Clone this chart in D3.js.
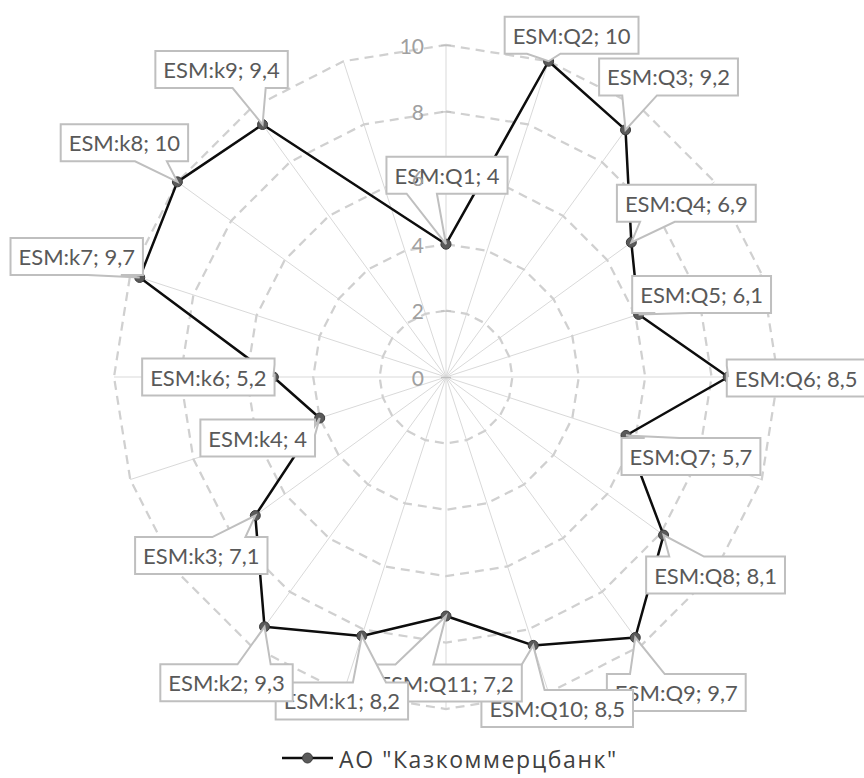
<!DOCTYPE html>
<html>
<head>
<meta charset="utf-8">
<script src="https://cdn.jsdelivr.net/npm/d3@7"></script>
<style>
  html, body { margin: 0; padding: 0; background: #fff; }
  svg { display: block; }
</style>
</head>
<body>
<svg id="chart" width="864" height="778"></svg>
<script>
// ---- data ----
const categories = [
  "ESM:Q1", "ESM:Q2", "ESM:Q3", "ESM:Q4", "ESM:Q5", "ESM:Q6", "ESM:Q7",
  "ESM:Q8", "ESM:Q9", "ESM:Q10", "ESM:Q11",
  "ESM:k1", "ESM:k2", "ESM:k3", "ESM:k4", "ESM:k6", "ESM:k7", "ESM:k8", "ESM:k9",
  ""
];
const values = [4, 10, 9.2, 6.9, 6.1, 8.5, 5.7, 8.1, 9.7, 8.5, 7.2,
                8.2, 9.3, 7.1, 4, 5.2, 9.7, 10, 9.4, null];
const tickValues = [0, 2, 4, 6, 8, 10];
const seriesName = "АО \"Казкоммерцбанк\"";

// callout box centre, relative to the point it describes
const labelOffsets = [
  [1, -69], [23, -26], [43, -53], [55, -39], [63, -20], [68, 1], [65, 21],
  [52, 40], [41, 55], [24, 63], [0, 67],
  [-20, 65], [-38, 56], [-54, 40], [-62, 20], [-65, 0], [-63, -21], [-53, -39], [-41, -55],
  [0, 0]
];

// ---- layout ----
const svg = d3.select("#chart");
const cx = 446, cy = 377, radius = 332;
const FONT = "Lato, 'Open Sans', 'DejaVu Sans', sans-serif";
const LEGEND_FONT = "'Open Sans', Lato, 'DejaVu Sans', sans-serif";

const r = d3.scaleLinear().domain([0, 10]).range([0, radius]);
const angle = d3.scaleLinear().domain([0, categories.length]).range([0, 2 * Math.PI]);
const px = (i, v) => cx + r(v) * Math.sin(angle(i));
const py = (i, v) => cy - r(v) * Math.cos(angle(i));

const locale = d3.formatLocale({ decimal: ",", thousands: " ", grouping: [3], currency: ["", ""] });
const fmt = locale.format("~g");

// ---- grid: spokes ----
const grid = svg.append("g");
grid.selectAll("line.spoke")
  .data(categories)
  .join("line")
  .attr("class", "spoke")
  .attr("x1", cx).attr("y1", cy)
  .attr("x2", (d, i) => px(i, 10))
  .attr("y2", (d, i) => py(i, 10))
  .attr("stroke", "#d9d9d9")
  .attr("stroke-width", 1);

// ---- grid: dashed rings ----
const ring = d3.lineRadial()
  .angle((d, i) => angle(i))
  .radius(d => r(d))
  .curve(d3.curveLinearClosed);
grid.selectAll("path.ring")
  .data(tickValues.filter(t => t > 0))
  .join("path")
  .attr("class", "ring")
  .attr("transform", `translate(${cx},${cy})`)
  .attr("d", t => ring(categories.map(() => t)))
  .attr("fill", "none")
  .attr("stroke", "#d0d0d0")
  .attr("stroke-width", 2.25)
  .attr("stroke-dasharray", "9,6");

// ---- value axis on the first spoke ----
const yAxisScale = d3.scaleLinear().domain([0, 10]).range([cy, cy - radius]);
const axisG = svg.append("g")
  .attr("transform", `translate(${cx},0)`)
  .call(d3.axisLeft(yAxisScale).tickValues(tickValues).tickSize(5).tickPadding(17).tickFormat(fmt));
axisG.select(".domain").remove();
axisG.selectAll(".tick line").attr("x1", -5).attr("x2", 5).attr("stroke", "#bfbfbf").attr("stroke-width", 1.25);
axisG.selectAll(".tick text").remove();

// ---- series ----
const pts = values
  .map((v, i) => ({ v, i, c: categories[i] }))
  .filter(d => d.v != null);

const seriesLine = d3.line()
  .x(d => px(d.i, d.v))
  .y(d => py(d.i, d.v))
  .curve(d3.curveLinearClosed);

svg.append("path")
  .datum(pts)
  .attr("d", seriesLine)
  .attr("fill", "none")
  .attr("stroke", "#0d0d0d")
  .attr("stroke-width", 2.5)
  .attr("stroke-linejoin", "round");

svg.append("g").selectAll("circle")
  .data(pts)
  .join("circle")
  .attr("cx", d => px(d.i, d.v))
  .attr("cy", d => py(d.i, d.v))
  .attr("r", 5)
  .attr("fill", "#5a5a5a")
  .attr("stroke", "#3a3a3a")
  .attr("stroke-width", 1);

// ---- data callouts ----
function calloutPath(l, t, w, h, tx, ty) {
  const rr = l + w, b = t + h, hc = l + w / 2, vc = t + h / 2;
  const dxp = (tx - hc) / w, dyp = (ty - vc) / h;
  const horiz = Math.abs(dxp) > Math.abs(dyp);
  const fx1 = l + w * (dxp > 0 ? 7 : 2) / 12, fx2 = l + w * (dxp > 0 ? 10 : 5) / 12;
  const fy1 = t + h * (dyp > 0 ? 7 : 2) / 12, fy2 = t + h * (dyp > 0 ? 10 : 5) / 12;
  const p = d3.path();
  p.moveTo(l, t);
  if (!horiz && dyp < 0) { p.lineTo(fx1, t); p.lineTo(tx, ty); p.lineTo(fx2, t); }
  p.lineTo(rr, t);
  if (horiz && dxp > 0) { p.lineTo(rr, fy1); p.lineTo(tx, ty); p.lineTo(rr, fy2); }
  p.lineTo(rr, b);
  if (!horiz && dyp > 0) { p.lineTo(fx2, b); p.lineTo(tx, ty); p.lineTo(fx1, b); }
  p.lineTo(l, b);
  if (horiz && dxp < 0) { p.lineTo(l, fy2); p.lineTo(tx, ty); p.lineTo(l, fy1); }
  p.closePath();
  return p.toString();
}

const boxH = 37, padX = 8;
const labels = svg.append("g");
pts.forEach(d => {
  const g = labels.append("g");
  const tx = px(d.i, d.v), ty = py(d.i, d.v);
  const [ox, oy] = labelOffsets[d.i];
  const ccx = tx + ox, ccy = ty + oy;
  const path = g.append("path");
  const text = g.append("text")
    .attr("x", ccx).attr("y", ccy)
    .attr("text-anchor", "middle")
    .attr("dominant-baseline", "central")
    .attr("font-family", FONT)
    .attr("font-size", 22)
    .attr("fill", "#595959")
    .text(`${d.c}; ${fmt(d.v)}`);
  const w = text.node().getComputedTextLength() + 2 * padX;
  path.attr("d", calloutPath(ccx - w / 2, ccy - boxH / 2, w, boxH, tx, ty))
    .attr("fill", "#fff")
    .attr("stroke", "#bfbfbf")
    .attr("stroke-width", 2);
});

// ---- axis tick labels (drawn above callouts) ----
svg.append("g").selectAll("text")
  .data(tickValues)
  .join("text")
  .attr("x", cx - 22)
  .attr("y", d => yAxisScale(d))
  .attr("text-anchor", "end")
  .attr("dominant-baseline", "central")
  .attr("font-family", FONT)
  .attr("font-size", 21)
  .attr("fill", "#a0a0a0")
  .text(fmt);

// ---- legend ----
const legend = svg.append("g");
legend.append("line")
  .attr("x1", 282).attr("x2", 333).attr("y1", 758).attr("y2", 758)
  .attr("stroke", "#0d0d0d").attr("stroke-width", 2.5);
legend.append("circle")
  .attr("cx", 307.5).attr("cy", 758).attr("r", 5)
  .attr("fill", "#5a5a5a").attr("stroke", "#3a3a3a");
legend.append("text")
  .attr("x", 339).attr("y", 759)
  .attr("dominant-baseline", "central")
  .attr("font-family", LEGEND_FONT)
  .attr("font-size", 23)
  .attr("letter-spacing", 1.6)
  .attr("fill", "#404040")
  .text(seriesName);
</script>
</body>
</html>
